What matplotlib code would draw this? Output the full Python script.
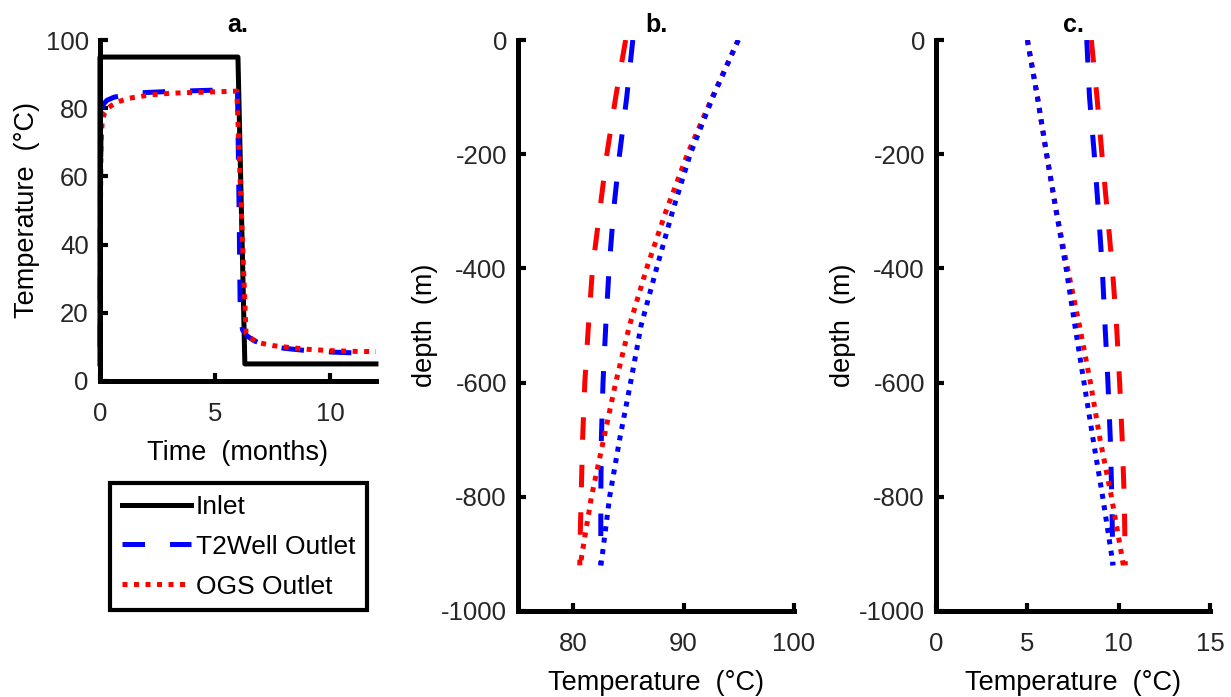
import matplotlib.pyplot as plt
import numpy as np

plt.rcParams['font.family'] = ['Liberation Sans', 'DejaVu Sans']
plt.rcParams['axes.unicode_minus'] = False

# a. inlet / outlet temperature over one year
inlet_t = [0, 0, 6.0, 6.3, 12]
inlet_T = [5, 95, 95, 5, 5]

t2well_t = [0, 0.02, 0.05, 0.13, 0.3, 0.6, 1.0, 1.5, 2.0, 3.0, 4.0, 5.0, 5.98,
            6.05, 6.1, 6.2, 6.4, 6.7, 7.0, 7.5, 8.0, 9.0, 10.0, 11.2]
t2well_T = [10, 55, 75, 81, 82.3, 83.2, 83.8, 84.3, 84.6, 84.9, 85.1, 85.3, 85.5,
            50, 19, 15, 13.2, 11.8, 11.0, 10.2, 9.6, 8.9, 8.5, 8.2]

ogs_t = [0, 0.02, 0.05, 0.1, 0.2, 0.35, 0.5, 0.8, 1.25, 1.7, 2.2, 3.1, 4.0, 5.0, 5.95,
         6.35, 6.5, 6.75, 7.0, 7.5, 8.0, 9.0, 10.0, 11.0, 12.0]
ogs_T = [10, 50, 70, 76.5, 78.6, 80.0, 80.8, 81.9, 82.9, 83.4, 83.9, 84.4, 84.6, 84.8, 85.0,
         14, 12.8, 11.8, 11.1, 10.4, 10.0, 9.3, 8.9, 8.7, 8.6]

# b./c. temperature profiles along the well
depth = [0, -100, -200, -300, -400, -500, -600, -700, -800, -900, -920]

b_t2well_red = [84.75, 83.85, 83.05, 82.4, 81.75, 81.38, 81.05, 80.85, 80.72, 80.6, 80.6]
b_t2well_blue = [85.4, 84.85, 84.2, 83.65, 83.25, 82.95, 82.7, 82.55, 82.5, 82.5, 82.5]
b_ogs_red = [94.95, 92.6, 90.35, 88.4, 86.65, 85.1, 83.85, 82.75, 81.65, 80.8, 80.65]
b_ogs_blue = [94.95, 92.65, 90.6, 89.0, 87.55, 86.15, 85.2, 84.2, 83.3, 82.65, 82.5]

c_t2well_red = [8.5, 8.81, 9.08, 9.37, 9.65, 9.88, 10.05, 10.19, 10.3, 10.35, 10.36]
c_t2well_blue = [8.25, 8.4, 8.66, 8.89, 9.1, 9.25, 9.41, 9.54, 9.62, 9.67, 9.68]
c_ogs_red = [5.0, 5.55, 6.05, 6.58, 7.2, 7.85, 8.45, 8.98, 9.6, 10.15, 10.25]
c_ogs_blue = [5.0, 5.55, 6.05, 6.58, 7.12, 7.6, 8.1, 8.6, 9.12, 9.6, 9.68]

DASH = (0, (4.5, 5))
DOT = (0, (1, 1.3))
LW = 3.6


def style(ax):
    for s in ['top', 'right']:
        ax.spines[s].set_visible(False)
    for s in ['left', 'bottom']:
        ax.spines[s].set_linewidth(3.6)
    ax.tick_params(direction='in', length=6, width=3, labelsize=18.5,
                   labelcolor='#262626')
    ax.tick_params(axis='y', pad=8)
    ax.tick_params(axis='x', pad=15)


fig = plt.figure(figsize=(12.31, 6.97), dpi=100)
ax_a = fig.add_axes([0.0812, 0.4534, 0.2242, 0.4892])
ax_b = fig.add_axes([0.4208, 0.1234, 0.2242, 0.8192])
ax_c = fig.add_axes([0.7604, 0.1234, 0.2226, 0.8192])

l1, = ax_a.plot(inlet_t, inlet_T, color='k', lw=LW, label='Inlet', clip_on=False)
l2, = ax_a.plot(t2well_t, t2well_T, color='b', lw=LW, ls=DASH, label='T2Well Outlet', clip_on=False)
l3, = ax_a.plot(ogs_t, ogs_T, color='r', lw=LW, ls=DOT, label='OGS Outlet', clip_on=False)
ax_a.set_xlim(0, 12)
ax_a.set_ylim(0, 100)
ax_a.set_xticks([0, 5, 10])
ax_a.set_yticks([0, 20, 40, 60, 80, 100])
ax_a.set_xlabel('Time  (months)', fontsize=19.5, labelpad=10)
ax_a.set_ylabel('Temperature  (°C)', fontsize=19.5, labelpad=4)
ax_a.set_title('a.', fontsize=18, fontweight='bold', pad=6)
style(ax_a)

ax_b.plot(b_t2well_red, depth, color='r', lw=LW, ls=DASH)
ax_b.plot(b_t2well_blue, depth, color='b', lw=LW, ls=DASH)
ax_b.plot(b_ogs_red, depth, color='r', lw=LW, ls=DOT)
ax_b.plot(b_ogs_blue, depth, color='b', lw=LW, ls=DOT)
ax_b.set_xlim(75, 100)
ax_b.set_xticks([80, 90, 100])

ax_c.plot(c_t2well_blue, depth, color='b', lw=LW, ls=DASH)
ax_c.plot(c_t2well_red, depth, color='r', lw=LW, ls=DASH)
ax_c.plot(c_ogs_red, depth, color='r', lw=LW, ls=DOT)
ax_c.plot(c_ogs_blue, depth, color='b', lw=LW, ls=DOT)
ax_c.set_xlim(0, 15)
ax_c.set_xticks([0, 5, 10, 15])

for ax, ttl in [(ax_b, 'b.'), (ax_c, 'c.')]:
    ax.set_ylim(-1000, 0)
    ax.set_yticks(np.arange(-1000, 1, 200))
    ax.set_xlabel('Temperature  (°C)', fontsize=19.5, labelpad=10)
    ax.set_ylabel('depth  (m)', fontsize=19.5, labelpad=2)
    ax.set_title(ttl, fontsize=18, fontweight='bold', pad=6)
    style(ax)

leg = fig.legend(handles=[l1, l2, l3], loc='upper left', bbox_to_anchor=(0.0894, 0.307),
                 fontsize=19, handlelength=2.6, handletextpad=0.2, labelspacing=0.6,
                 borderpad=0.45, borderaxespad=0, fancybox=False, framealpha=1)
leg.get_frame().set_edgecolor('k')
leg.get_frame().set_linewidth(3)

fig.savefig('out.png', dpi=100)
